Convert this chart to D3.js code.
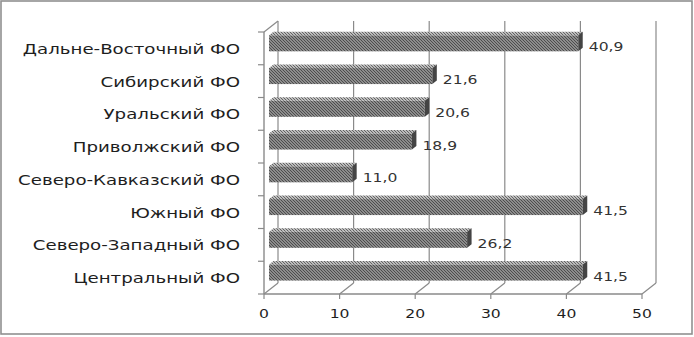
<!DOCTYPE html>
<html><head><meta charset="utf-8">
<script src="https://cdn.jsdelivr.net/npm/d3@7"></script>
<style>html,body{margin:0;padding:0;background:#fff;}svg{display:block;}</style>
</head><body>
<script>
const categories = ["Центральный ФО","Северо-Западный ФО","Южный ФО","Северо-Кавказский ФО","Приволжский ФО","Уральский ФО","Сибирский ФО","Дальне-Восточный ФО"];
const values = [41.5, 26.2, 41.5, 11.0, 18.9, 20.6, 21.6, 40.9];
const valueLabels = ["41,5","26,2","41,5","11,0","18,9","20,6","21,6","40,9"];
const ticks = [0,10,20,30,40,50];

const W = 694, H = 337;
const svg = d3.select("body").append("svg").attr("width",W).attr("height",H);
const defs = svg.append("defs");
const pat = defs.append("pattern").attr("id","hatch").attr("patternUnits","userSpaceOnUse")
  .attr("width",3).attr("height",3);
pat.append("rect").attr("width",3).attr("height",3).attr("fill","#a8a8a8");
pat.append("path").attr("d","M-1,-1 L4,4 M-1,2 L1,4 M2,-1 L4,1").attr("stroke","#484848").attr("stroke-width",1.1);
const pat2 = defs.append("pattern").attr("id","hatch2").attr("patternUnits","userSpaceOnUse")
  .attr("width",3).attr("height",3);
pat2.append("rect").attr("width",3).attr("height",3).attr("fill","#bdbdbd");
pat2.append("path").attr("d","M0,0 L3,3").attr("stroke","#626262").attr("stroke-width",1);

// frame
svg.append("rect").attr("x",1).attr("y",1).attr("width",691).attr("height",333)
  .attr("fill","#fff").attr("stroke","#909090").attr("stroke-width",1.6);

const x = d3.scaleLinear().domain([0,50]).range([264,642]);
const y = d3.scaleBand().domain(categories).range([294,32]);
const DX = 14, DY = -11; // depth vector
const gridColor = "#8a8a8a";
const g = svg.append("g");

// back wall verticals and floor diagonals
ticks.forEach(t => {
  g.append("line").attr("x1",x(t)+DX).attr("x2",x(t)+DX).attr("y1",32+DY).attr("y2",294+DY)
    .attr("stroke",gridColor).attr("stroke-width",1.2);
  g.append("line").attr("x1",x(t)).attr("y1",294).attr("x2",x(t)+DX).attr("y2",294+DY)
    .attr("stroke",gridColor).attr("stroke-width",1.2);
});
g.append("line").attr("x1",x(0)).attr("y1",32).attr("x2",x(0)+DX).attr("y2",32+DY)
  .attr("stroke",gridColor).attr("stroke-width",1.2);
g.append("line").attr("x1",x(0)).attr("x2",x(0)).attr("y1",32).attr("y2",294).attr("stroke",gridColor).attr("stroke-width",1.4);
g.append("line").attr("x1",x(0)).attr("x2",x(50)).attr("y1",294).attr("y2",294).attr("stroke",gridColor).attr("stroke-width",1.4);
const bounds = categories.map(c => y(c)).concat([294]);
bounds.forEach(b => g.append("line").attr("x1",x(0)-6).attr("x2",x(0)).attr("y1",b).attr("y2",b).attr("stroke",gridColor).attr("stroke-width",1.2));
ticks.forEach(t => g.append("line").attr("x1",x(t)).attr("x2",x(t)).attr("y1",294).attr("y2",299).attr("stroke",gridColor).attr("stroke-width",1.2));

// bars
const f0 = 0.36, fd = 0.32;
const bh = 16;
categories.forEach((c,i) => {
  const bc = y(c) + y.bandwidth()/2;
  const top = bc - 13 + f0*DY + 3.9;
  const x0 = x(0) + f0*DX;
  const x1 = x(values[i]) + f0*DX;
  const ox = fd*DX, oy = fd*DY;
  g.append("path").attr("d",`M${x0},${top} L${x1},${top} L${x1+ox},${top+oy} L${x0+ox},${top+oy} Z`)
    .attr("fill","url(#hatch2)");
  g.append("rect").attr("x",x0).attr("y",top).attr("width",x1-x0).attr("height",bh)
    .attr("fill","url(#hatch)");
  g.append("path").attr("d",`M${x1},${top} L${x1+ox},${top+oy} L${x1+ox},${top+oy+bh} L${x1},${top+bh} Z`)
    .attr("fill","#444");
  g.append("text").attr("transform",`translate(${x1+ox+6},${bc+3}) scale(1.3,1)`)
    .attr("font-family","DejaVu Sans").attr("font-size",12).attr("fill","#333")
    .text(valueLabels[i]);
  g.append("text").attr("transform",`translate(240,${bc+5.5}) scale(1.3,1)`)
    .attr("text-anchor","end").attr("font-family","DejaVu Sans").attr("font-size",14).attr("fill","#1e1e1e")
    .text(c);
});

ticks.forEach(t => g.append("text").attr("transform",`translate(${x(t)},318) scale(1.3,1)`)
  .attr("text-anchor","middle").attr("font-family","DejaVu Sans").attr("font-size",12).attr("fill","#1e1e1e")
  .text(t));
</script>
</body></html>
